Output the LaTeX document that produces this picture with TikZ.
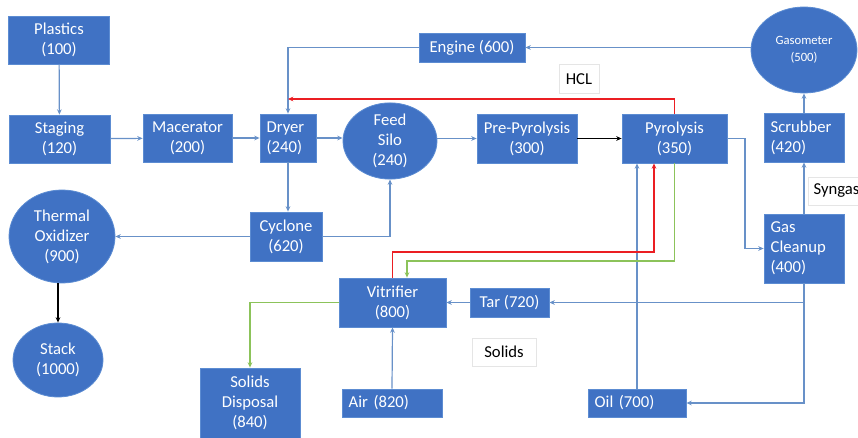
\documentclass[tikz,border=0pt]{standalone}
\usepackage{fontspec}
\setmainfont{Carlito}
\usetikzlibrary{shapes.geometric,arrows.meta}

\definecolor{boxblue}{RGB}{64,114,196}
\definecolor{boxedge}{RGB}{92,140,210}
\definecolor{flowblue}{RGB}{104,145,200}
\definecolor{flowred}{RGB}{235,30,35}
\definecolor{flowgreen}{RGB}{140,195,90}

\begin{document}
\begin{tikzpicture}[
  x=0.75pt, y=-0.75pt,
  %% Unit boxes (blue, white text)
  unit/.style={draw=boxedge, line width=0.6pt, fill=boxblue, text=white,
               font=\fontsize{12.5}{15}\selectfont, align=center,
               inner sep=2pt},
  sz/.style 2 args={minimum width=#1*0.75pt, minimum height=#2*0.75pt},
  %% Left-aligned unit text
  lunit/.style={unit, align=left, text width=#1*0.75pt-10pt},
  %% Round vessels
  vessel/.style={unit, ellipse, inner sep=0pt},
  %% Plain stream labels
  tag/.style={draw=gray!20, fill=white, font=\fontsize{12.5}{15}\selectfont,
              inner sep=4pt},
  %% Streams
  flow/.style={-{Stealth[length=4pt,width=3.5pt]}, line width=0.9pt, flowblue},
  redflow/.style={flow, flowred, line width=1.2pt},
  greenflow/.style={flow, flowgreen},
  blackflow/.style={flow, black}
]
\useasboundingbox (0,0) rectangle (858,438);

%% ── Main feed line ────────────────────────────────────────────
\node[unit, sz={101}{48}] (plastics) at (59,40)    {Plastics\\(100)};
\node[unit, sz={101}{48}] (staging)  at (59.5,139) {Staging\\(120)};
\node[unit, sz={89}{48}]  (macer)    at (187.5,138) {Macerator\\(200)};
\node[lunit=56, sz={56}{48}] (dryer) at (288,138)  {Dryer\\(240)};
\node[vessel, sz={94}{63}] (silo)    at (390,141)  {Feed\\Silo\\(240)};
\node[unit, sz={100}{49}] (prepyro)  at (527,138.5) {Pre-Pyrolysis\\(300)};
\node[unit, sz={105}{49}] (pyro)     at (674.5,138.5) {Pyrolysis\\(350)};

%% ── Gas side ──────────────────────────────────────────────────
\node[unit, sz={106}{29}] (engine)   at (472,47.5) {Engine (600)};
\node[vessel, sz={106}{86}, font=\fontsize{9.5}{13}\selectfont] (gasom) at (804,50) {Gasometer\\(500)};
\node[lunit=80, sz={80}{49}] (scrub) at (804,137.5) {Scrubber\\(420)};
\node[lunit=80, sz={80}{69}] (gascl) at (804,248.5) {Gas\\Cleanup\\(400)};

%% ── Off-gas and solids ────────────────────────────────────────
\node[unit, sz={72}{49}]  (cyclone)  at (286,236.5) {Cyclone\\(620)};
\node[vessel, sz={106}{93}] (thermox) at (62,236.5) {Thermal\\Oxidizer\\(900)};
\node[vessel, sz={90}{74}] (stack)   at (58,360)   {Stack\\(1000)};
\node[unit, sz={107}{49}] (vitri)    at (392.5,302.5) {Vitrifier\\(800)};
\node[unit, sz={79}{29}]  (tar)      at (509.5,302.5) {Tar (720)};
\node[lunit=100, sz={100}{28}] (air) at (392,403)  {Air (820)};
\node[lunit=98, sz={98}{28}]   (oil) at (637,403)  {Oil (700)};
\node[unit, sz={100}{70}] (disposal) at (250,403)  {Solids\\Disposal\\(840)};

%% ── Stream labels ─────────────────────────────────────────────
\node[tag, minimum width=30pt, minimum height=22pt] (hcl)    at (579,79)  {HCL};
\node[tag, minimum width=48pt, minimum height=21pt] (solids) at (504,352) {Solids};
\node[tag, anchor=west, minimum height=21pt] (syngas) at (808,191) {Syngas};

%% ── Junction points ───────────────────────────────────────────
\coordinate (hclend) at (288,99);
\coordinate (pyroout) at (745,138.5);
\coordinate (tarjoin) at (804,302.5);
\coordinate (redturn) at (654,252);
\coordinate (greenturn) at (407,261);

%% ── Streams ───────────────────────────────────────────────────
\draw[flow] (plastics) -- (staging);
\draw[flow] (staging) -- (macer);
\draw[flow] (macer) -- (dryer);
\draw[flow] (dryer.east) -- (dryer.east -| silo.west);
\draw[flow] (silo.east |- prepyro) -- (prepyro.west);
\draw[blackflow] (prepyro) -- (pyro);

\draw[flow] (gasom.west |- engine) -- (engine.east);
\draw[flow] (engine.west) -| (dryer.north);
\draw[redflow] (pyro.north) |- (hclend);

\draw[flow] (pyro.east) -- (pyroout) |- (gascl.west);
\draw[flow] (gascl.north) -- (scrub.south);
\draw[flow] (scrub.north) -- (gasom.south);
\draw[flow] (gascl.south) |- (oil.east);
\draw[flow] (tarjoin) -- (tar.east);
\draw[flow] (tar.west) -- (vitri.east);
\draw[flow] (air.north) -- (vitri.south);
\draw[flow] (oil.north) -- (oil.north |- pyro.south);

\draw[redflow] (vitri.north) |- (redturn) -- (redturn |- pyro.south);
\draw[greenflow] (pyro.south) |- (greenturn) -- (greenturn |- vitri.north);
\draw[greenflow] (vitri.west) -| (disposal.north);

\draw[flow] (dryer.south) -- (dryer.south |- cyclone.north);
\draw[flow] (cyclone.east) -| (silo.south);
\draw[flow] (cyclone.west) -- (thermox.east);
\draw[blackflow] (stack.north |- thermox.south) -- (stack.north);

\end{tikzpicture}
\end{document}
